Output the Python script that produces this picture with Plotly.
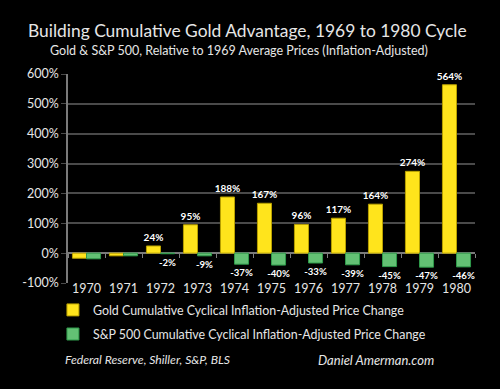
import plotly.graph_objects as go

years = ["1970", "1971", "1972", "1973", "1974", "1975", "1976", "1977", "1978", "1979", "1980"]
gold_pct = [-17, -9, 24, 95, 188, 167, 96, 117, 164, 274, 564]
sp500_pct = [-19, -9, -2, -9, -37, -40, -33, -39, -45, -47, -46]
label_start = 2  # first two years carry no data labels
y_ticks = [-100, 0, 100, 200, 300, 400, 500, 600]
y_tick_text = [f"{v}%" for v in y_ticks]

gold_text = ["" if i < label_start else f"{v}%" for i, v in enumerate(gold_pct)]
sp_text = ["" if i < label_start else f"{v}%" for i, v in enumerate(sp500_pct)]

FONT = "Lato"
TXT = "#e6e6e6"
GRID = "#4a4a4a"

fig = go.Figure()
fig.add_trace(go.Bar(
    x=years, y=gold_pct, name="Gold Cumulative Cyclical Inflation-Adjusted Price Change",
    legendgroup="gold",
    marker=dict(color="#ffe41c", line=dict(color="#b8a000", width=1)),
    text=gold_text, textposition="outside", cliponaxis=False, textangle=0,
    constraintext="none",
    textfont=dict(color="white", size=10, family=FONT, weight="bold"),
))
fig.add_trace(go.Bar(
    x=years, y=sp500_pct, name="S&P 500 Cumulative Cyclical Inflation-Adjusted Price Change",
    legendgroup="sp",
    marker=dict(color="#63c174", line=dict(color="#2f9a4a", width=1)),
    text=sp_text, textposition="outside", cliponaxis=False, textangle=0,
    constraintext="none",
    textfont=dict(color="white", size=9.6, family=FONT, weight="bold"),
))

fig.update_layout(
    width=500, height=389,
    paper_bgcolor="black", plot_bgcolor="black",
    margin=dict(l=68, r=25, t=74, b=106, autoexpand=False),
    barmode="group", bargap=0.24, bargroupgap=0,
    font=dict(family=FONT, color=TXT, size=12.5),
    showlegend=True,
    legend=dict(orientation="v", x=-0.037, xanchor="left", y=-0.059, yanchor="top",
                font=dict(size=12.4, color=TXT), bgcolor="rgba(0,0,0,0)",
                itemwidth=30, tracegroupgap=5),
    xaxis=dict(type="category", showgrid=False, showline=False,
               anchor="free", position=1/7,
               ticks="outside", tickson="boundaries", ticklen=4, tickcolor="#808080",
               tickangle=0, tickfont=dict(size=12.5, color=TXT), ticklabelstandoff=26),
    yaxis=dict(range=[-100, 600], tickmode="array", tickvals=y_ticks, ticktext=y_tick_text,
               showgrid=True, gridcolor=GRID, gridwidth=1.5,
               zeroline=True, zerolinecolor="#7a7a7a", zerolinewidth=1.5,
               showline=True, linecolor="#7a7a7a", linewidth=1.5,
               ticks="outside", ticklen=5, tickcolor=GRID,
               tickfont=dict(size=12.5, color=TXT)),
)

fig.add_annotation(text="Building Cumulative Gold Advantage, 1969 to 1980 Cycle",
                   xref="paper", yref="paper", x=0.441, xanchor="center",
                   y=1.21, yanchor="middle", showarrow=False,
                   font=dict(size=17.4, color=TXT, family=FONT))
fig.add_annotation(text="Gold & S&P 500, Relative to 1969 Average Prices (Inflation-Adjusted)",
                   xref="paper", yref="paper", x=0.419, xanchor="center",
                   y=1.112, yanchor="middle", showarrow=False,
                   font=dict(size=12.5, color=TXT, family=FONT))
fig.add_annotation(text="<i>Federal Reserve, Shiller, S&P, BLS</i>",
                   xref="paper", yref="paper", x=-0.012, xanchor="left",
                   y=-0.368, yanchor="middle", showarrow=False,
                   font=dict(size=12.2, color=TXT, family=FONT))
fig.add_annotation(text="<i>Daniel Amerman.com</i>",
                   xref="paper", yref="paper", x=0.61, xanchor="left",
                   y=-0.368, yanchor="middle", showarrow=False,
                   font=dict(size=13, color=TXT, family=FONT))

fig.write_html("out.html", config={"displayModeBar": False},
               post_script="document.body.style.margin='0';document.body.style.background='black';")
